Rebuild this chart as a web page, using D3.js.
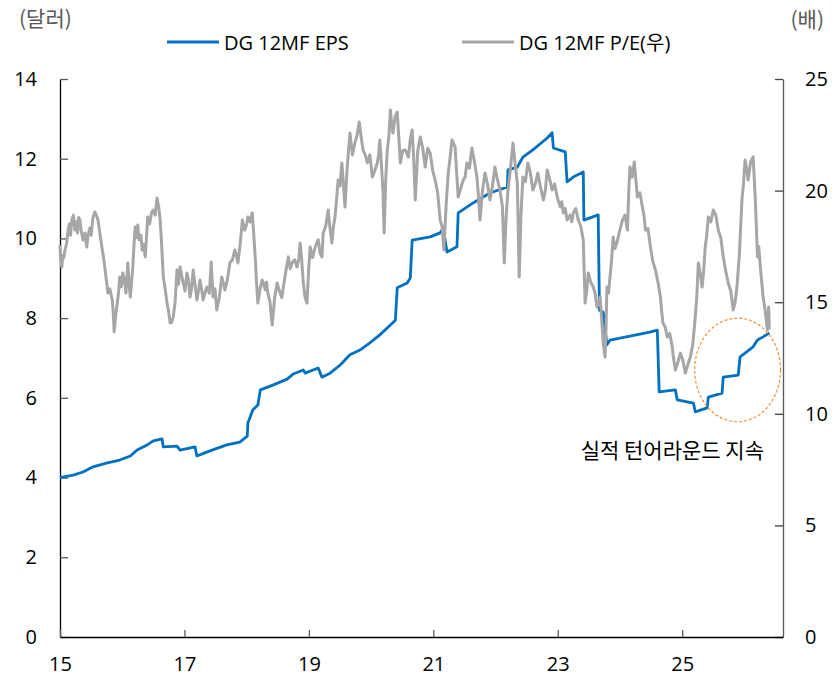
<!DOCTYPE html>
<html>
<head>
<meta charset="utf-8">
<script src="https://cdn.jsdelivr.net/npm/d3@7"></script>
<style>
  body { margin: 0; background: #fff; }
  text { font-family: 'Open Sans', 'Noto Sans CJK KR', sans-serif; }
  .kr { font-family: 'Noto Sans CJK KR', sans-serif; }
</style>
</head>
<body>
<script>
// DG 12MF EPS (dollars), [year, value]
const epsData = [
  [15.00, 4.00], [15.21, 4.06], [15.37, 4.14], [15.53, 4.27], [15.76, 4.37], [15.96, 4.44],
  [16.13, 4.54], [16.24, 4.69], [16.40, 4.82], [16.50, 4.92], [16.64, 4.97], [16.66, 4.77],
  [16.88, 4.79], [16.93, 4.69], [17.17, 4.77], [17.20, 4.54], [17.41, 4.67], [17.68, 4.82],
  [17.89, 4.89], [18.01, 5.04], [18.02, 5.37], [18.10, 5.70], [18.18, 5.82], [18.22, 6.20],
  [18.42, 6.32], [18.65, 6.47], [18.75, 6.60], [18.91, 6.70], [18.94, 6.62], [19.15, 6.75],
  [19.21, 6.52], [19.34, 6.62], [19.50, 6.82], [19.66, 7.08], [19.82, 7.20], [19.98, 7.38],
  [20.14, 7.58], [20.31, 7.83], [20.39, 7.95], [20.42, 8.76], [20.58, 8.88], [20.63, 9.01],
  [20.66, 9.96], [20.95, 10.04], [21.11, 10.14], [21.16, 10.26], [21.22, 9.66], [21.38, 9.79],
  [21.40, 10.64], [21.64, 10.89], [21.91, 11.14], [22.19, 11.29], [22.20, 11.72], [22.35, 11.79],
  [22.44, 12.04], [22.60, 12.22], [22.83, 12.52], [22.91, 12.65], [22.93, 12.27], [23.12, 12.17],
  [23.15, 11.42], [23.25, 11.54], [23.41, 11.67], [23.42, 10.46], [23.65, 10.59], [23.67, 8.20],
  [23.73, 8.15], [23.79, 7.33], [23.84, 7.45], [24.00, 7.50], [24.16, 7.55], [24.32, 7.60],
  [24.48, 7.65], [24.60, 7.70], [24.63, 6.15], [24.89, 6.20], [24.92, 5.95], [25.18, 5.87],
  [25.21, 5.65], [25.40, 5.75], [25.42, 6.02], [25.64, 6.12], [25.66, 6.52], [25.90, 6.57],
  [25.93, 7.03], [26.14, 7.28], [26.21, 7.45], [26.30, 7.53], [26.40, 7.63]
]

// DG 12MF P/E (times, right axis), [year, value]
const peData = [
  [15.00, 17.56], [15.01, 16.9], [15.02, 16.76], [15.03, 16.58], [15.045, 17.1], [15.06, 16.98],
  [15.08, 17.34], [15.105, 17.6], [15.13, 18.23], [15.15, 18.5], [15.17, 18.0], [15.19, 18.68],
  [15.215, 18.9], [15.24, 18.23], [15.26, 18.6], [15.28, 18.1], [15.30, 18.8], [15.32, 18.68],
  [15.34, 18.2], [15.37, 17.79], [15.40, 18.1], [15.43, 17.47], [15.45, 18.0], [15.48, 18.32],
  [15.50, 18.0], [15.53, 18.8], [15.56, 19.04], [15.585, 18.9], [15.61, 18.68], [15.64, 18.1],
  [15.68, 17.34], [15.70, 17.0], [15.72, 16.58], [15.745, 16.0], [15.77, 15.41], [15.80, 15.6],
  [15.84, 15.10], [15.855, 14.6], [15.87, 13.67], [15.895, 14.4], [15.92, 14.96], [15.94, 15.4],
  [15.96, 16.13], [15.985, 15.7], [16.01, 16.31], [16.035, 16.0], [16.06, 15.41], [16.09, 16.76],
  [16.11, 15.8], [16.13, 15.23], [16.15, 15.9], [16.17, 16.58], [16.19, 17.6], [16.21, 18.37],
  [16.23, 17.9], [16.25, 18.46], [16.27, 17.8], [16.30, 18.0], [16.32, 17.34], [16.345, 17.6],
  [16.37, 17.03], [16.39, 17.9], [16.41, 18.82], [16.44, 18.5], [16.47, 19.0], [16.50, 19.13],
  [16.53, 18.9], [16.56, 19.67], [16.585, 19.3], [16.61, 18.68], [16.635, 17.5], [16.66, 16.13],
  [16.69, 15.6], [16.72, 14.96], [16.745, 14.6], [16.77, 14.07], [16.795, 14.1], [16.82, 14.34],
  [16.85, 15.0], [16.88, 16.44], [16.905, 15.8], [16.93, 16.58], [16.955, 16.2], [16.98, 15.86],
  [17.01, 15.5], [17.04, 16.31], [17.065, 16.0], [17.09, 15.23], [17.115, 15.6], [17.14, 16.44],
  [17.17, 15.8], [17.20, 15.10], [17.225, 15.5], [17.25, 15.99], [17.275, 15.6], [17.30, 15.10],
  [17.33, 15.4], [17.36, 15.68], [17.40, 15.4], [17.43, 16.80], [17.46, 15.23], [17.49, 15.6],
  [17.52, 14.65], [17.56, 15.2], [17.60, 16.13], [17.65, 15.55], [17.69, 16.0], [17.73, 16.76],
  [17.77, 16.9], [17.81, 17.34], [17.835, 17.1], [17.86, 16.76], [17.90, 17.7], [17.93, 18.68],
  [17.97, 18.23], [18.00, 18.5], [18.02, 18.82], [18.055, 18.6], [18.09, 19.00], [18.115, 18.0],
  [18.14, 16.89], [18.16, 15.8], [18.18, 14.96], [18.215, 15.6], [18.25, 15.99], [18.275, 15.8],
  [18.30, 15.55], [18.32, 15.9], [18.34, 15.41], [18.375, 15.0], [18.41, 13.98], [18.45, 15.2],
  [18.49, 15.86], [18.515, 15.6], [18.54, 15.41], [18.565, 15.2], [18.59, 15.68], [18.63, 16.4],
  [18.67, 17.03], [18.70, 16.5], [18.73, 16.76], [18.77, 16.9], [18.81, 16.58], [18.835, 16.9],
  [18.86, 17.65], [18.885, 16.9], [18.91, 15.86], [18.94, 15.2], [18.97, 14.96], [18.995, 16.4],
  [19.02, 17.47], [19.06, 17.0], [19.10, 17.47], [19.15, 17.8], [19.18, 17.2], [19.21, 17.03],
  [19.23, 18.10], [19.27, 18.4], [19.31, 19.13], [19.34, 18.3], [19.37, 17.65], [19.395, 18.4],
  [19.42, 18.82], [19.445, 19.6], [19.47, 20.47], [19.50, 20.2], [19.53, 21.24], [19.555, 20.3],
  [19.58, 19.27], [19.61, 20.8], [19.635, 21.7], [19.66, 22.58], [19.70, 21.6], [19.74, 22.13],
  [19.775, 22.5], [19.81, 23.07], [19.84, 22.4], [19.87, 21.82], [19.905, 21.6], [19.94, 21.24],
  [19.98, 21.6], [20.02, 20.61], [20.06, 20.9], [20.10, 21.24], [20.12, 21.6], [20.14, 22.27],
  [20.17, 21.0], [20.19, 20.0], [20.21, 18.10], [20.235, 20.5], [20.26, 21.82], [20.285, 22.4],
  [20.31, 23.61], [20.33, 23.0], [20.35, 22.58], [20.385, 23.3], [20.42, 23.52], [20.445, 22.4],
  [20.47, 21.24], [20.51, 21.8], [20.55, 21.82], [20.60, 21.5], [20.63, 22.3], [20.66, 22.72],
  [20.685, 21.4], [20.71, 19.58], [20.75, 21.8], [20.79, 22.40], [20.83, 21.9], [20.87, 21.06],
  [20.91, 21.9], [20.95, 21.68], [20.99, 20.9], [21.03, 20.47], [21.07, 19.9], [21.11, 18.68],
  [21.14, 18.4], [21.17, 17.34], [21.205, 19.3], [21.24, 20.79], [21.27, 21.5], [21.30, 22.27],
  [21.35, 21.95], [21.375, 20.8], [21.40, 19.71], [21.44, 20.1], [21.48, 20.47], [21.51, 20.6],
  [21.54, 21.24], [21.58, 21.0], [21.62, 21.91], [21.66, 21.3], [21.70, 20.61], [21.725, 19.8],
  [21.75, 18.68], [21.79, 20.0], [21.83, 20.79], [21.87, 20.3], [21.91, 19.58], [21.95, 20.2],
  [21.99, 21.06], [22.03, 20.5], [22.07, 20.03], [22.11, 19.3], [22.14, 16.76], [22.17, 18.8],
  [22.20, 20.03], [22.24, 21.0], [22.28, 22.13], [22.315, 21.2], [22.35, 20.34], [22.38, 16.13],
  [22.41, 19.0], [22.44, 20.61], [22.48, 20.4], [22.52, 21.24], [22.56, 20.8], [22.60, 20.03],
  [22.64, 20.3], [22.68, 20.79], [22.72, 20.2], [22.77, 19.58], [22.80, 20.0], [22.83, 20.92],
  [22.87, 20.5], [22.91, 20.03], [22.95, 20.3], [22.99, 19.71], [23.04, 19.27], [23.065, 19.5],
  [23.09, 19.00], [23.12, 19.2], [23.15, 18.68], [23.20, 18.91], [23.225, 18.6], [23.25, 19.00],
  [23.29, 19.2], [23.33, 18.68], [23.37, 18.4], [23.41, 17.79], [23.44, 14.96], [23.465, 15.5],
  [23.49, 16.31], [23.53, 15.9], [23.57, 15.68], [23.60, 15.4], [23.63, 14.78], [23.655, 15.0],
  [23.68, 15.23], [23.705, 14.3], [23.73, 13.17], [23.76, 12.54], [23.775, 13.8], [23.79, 15.68],
  [23.815, 15.4], [23.84, 16.13], [23.865, 16.9], [23.89, 17.92], [23.92, 17.4], [23.95, 17.65],
  [23.995, 18.2], [24.04, 18.68], [24.08, 18.9], [24.12, 18.23], [24.14, 19.9], [24.16, 21.06],
  [24.195, 20.6], [24.23, 21.28], [24.255, 20.5], [24.28, 19.71], [24.32, 19.9], [24.36, 19.27],
  [24.385, 18.9], [24.41, 18.23], [24.45, 18.3], [24.49, 17.47], [24.53, 16.8], [24.57, 16.44],
  [24.61, 15.9], [24.65, 15.23], [24.67, 14.6], [24.69, 14.07], [24.725, 13.9], [24.76, 13.44],
  [24.80, 13.6], [24.84, 12.99], [24.865, 12.4], [24.89, 11.96], [24.93, 12.3], [24.97, 12.72],
  [25.01, 12.4], [25.05, 11.83], [25.09, 12.2], [25.13, 12.54], [25.17, 13.1], [25.21, 14.34],
  [25.235, 15.3], [25.26, 16.76], [25.29, 16.3], [25.32, 15.68], [25.345, 16.4], [25.37, 17.47],
  [25.395, 18.0], [25.42, 18.82], [25.46, 18.6], [25.50, 19.13], [25.54, 18.9], [25.58, 18.23],
  [25.62, 17.9], [25.66, 17.03], [25.70, 16.4], [25.74, 15.86], [25.78, 15.5], [25.82, 14.65],
  [25.85, 15.0], [25.88, 15.68], [25.92, 17.2], [25.96, 19.58], [25.985, 20.3], [26.01, 21.37],
  [26.035, 21.0], [26.06, 20.47], [26.10, 21.3], [26.14, 21.51], [26.175, 19.6], [26.21, 17.03],
  [26.23, 17.5], [26.25, 16.76], [26.275, 16.0], [26.30, 15.23], [26.335, 14.6], [26.37, 13.75],
  [26.39, 14.78], [26.40, 13.80]
]

const xTicks = [15, 17, 19, 21, 23, 25]
const leftTicks = [0, 2, 4, 6, 8, 10, 12, 14]
const rightTicks = [0, 5, 10, 15, 20, 25]

const width = 837
const height = 679
const margin = { top: 79, right: 54, bottom: 42, left: 60 }
const innerW = width - margin.left - margin.right
const innerH = height - margin.top - margin.bottom

const blue = '#0070c0'
const grey = '#a6a6a6'

const x = d3.scaleLinear().domain([15, 26.62]).range([0, innerW])
const yL = d3.scaleLinear().domain([0, 14]).range([innerH, 0])
const yR = d3.scaleLinear().domain([0, 25]).range([innerH, 0])

const svg = d3.select('body')
  .append('svg')
    .attr('width', width)
    .attr('height', height)

const g = svg.append('g')
  .attr('transform', `translate(${margin.left}, ${margin.top})`)

// axes, ticks pointing inwards
const xAxis = d3.axisBottom(x).tickValues(xTicks).tickSize(-7).tickPadding(20).tickSizeOuter(0)
const leftAxis = d3.axisLeft(yL).tickValues(leftTicks).tickSize(-8).tickPadding(23).tickSizeOuter(0)
const rightAxis = d3.axisRight(yR).tickValues(rightTicks).tickSize(-8).tickPadding(22).tickSizeOuter(0)

function styleAxis(sel, lineColor, tickColor) {
  sel.select('.domain').attr('stroke', lineColor).attr('stroke-width', 1.3)
  sel.selectAll('.tick line').attr('stroke', tickColor).attr('stroke-width', 1.3)
  sel.selectAll('.tick text')
    .attr('fill', '#000')
    .style('font-family', "'Open Sans', sans-serif")
    .style('font-size', '20px')
}

g.append('g')
  .attr('class', 'y axis left')
  .call(leftAxis)
  .call(s => styleAxis(s, '#000', '#595959'))

g.append('g')
  .attr('class', 'y axis right')
  .attr('transform', `translate(${innerW}, 0)`)
  .call(rightAxis)
  .call(s => styleAxis(s, '#595959', '#404040'))

g.append('g')
  .attr('class', 'x axis')
  .attr('transform', `translate(0, ${innerH})`)
  .call(xAxis)
  .call(s => styleAxis(s, '#000', '#595959'))

// lines
const epsLine = d3.line().x(d => x(d[0])).y(d => yL(d[1]))
const peLine = d3.line().x(d => x(d[0])).y(d => yR(d[1]))

g.append('path')
  .datum(epsData)
  .attr('fill', 'none')
  .attr('stroke', blue)
  .attr('stroke-width', 2.8)
  .attr('stroke-linejoin', 'round')
  .attr('d', epsLine)

g.append('path')
  .datum(peData)
  .attr('fill', 'none')
  .attr('stroke', grey)
  .attr('stroke-width', 3)
  .attr('stroke-linejoin', 'round')
  .attr('d', peLine)

// turnaround highlight
const hl = { from: 25.2, to: 26.58, lo: 5.4, hi: 8.0 }
g.append('ellipse')
  .attr('cx', (x(hl.from) + x(hl.to)) / 2)
  .attr('cy', (yL(hl.lo) + yL(hl.hi)) / 2)
  .attr('rx', (x(hl.to) - x(hl.from)) / 2)
  .attr('ry', (yL(hl.lo) - yL(hl.hi)) / 2)
  .attr('fill', 'none')
  .attr('stroke', '#f4913b')
  .attr('stroke-width', 1.2)
  .attr('stroke-dasharray', '3,2')

svg.append('text')
  .attr('class', 'kr')
  .attr('x', 764)
  .attr('y', 458)
  .attr('text-anchor', 'end')
  .style('font-size', '21px')
  .attr('fill', '#000')
  .text('실적 턴어라운드 지속')

// units
svg.append('text')
  .attr('class', 'kr')
  .attr('x', 19).attr('y', 26)
  .style('font-size', '21px')
  .attr('fill', '#595959')
  .text('(달러)')

svg.append('text')
  .attr('class', 'kr')
  .attr('x', 824).attr('y', 27)
  .attr('text-anchor', 'end')
  .style('font-size', '21px')
  .attr('fill', '#595959')
  .text('(배)')

// legend
const legend = [
  { name: 'DG 12MF EPS', color: blue, x: 167 },
  { name: 'DG 12MF P/E(우)', color: grey, x: 462 }
]
const lg = svg.append('g').attr('class', 'legend')
legend.forEach(d => {
  lg.append('line')
    .attr('x1', d.x).attr('x2', d.x + 52)
    .attr('y1', 42).attr('y2', 42)
    .attr('stroke', d.color)
    .attr('stroke-width', 2.8)
  lg.append('text')
    .attr('x', d.x + 57).attr('y', 50)
    .style('font-size', '20px')
    .attr('fill', '#000')
    .text(d.name)
})
</script>
</body>
</html>
